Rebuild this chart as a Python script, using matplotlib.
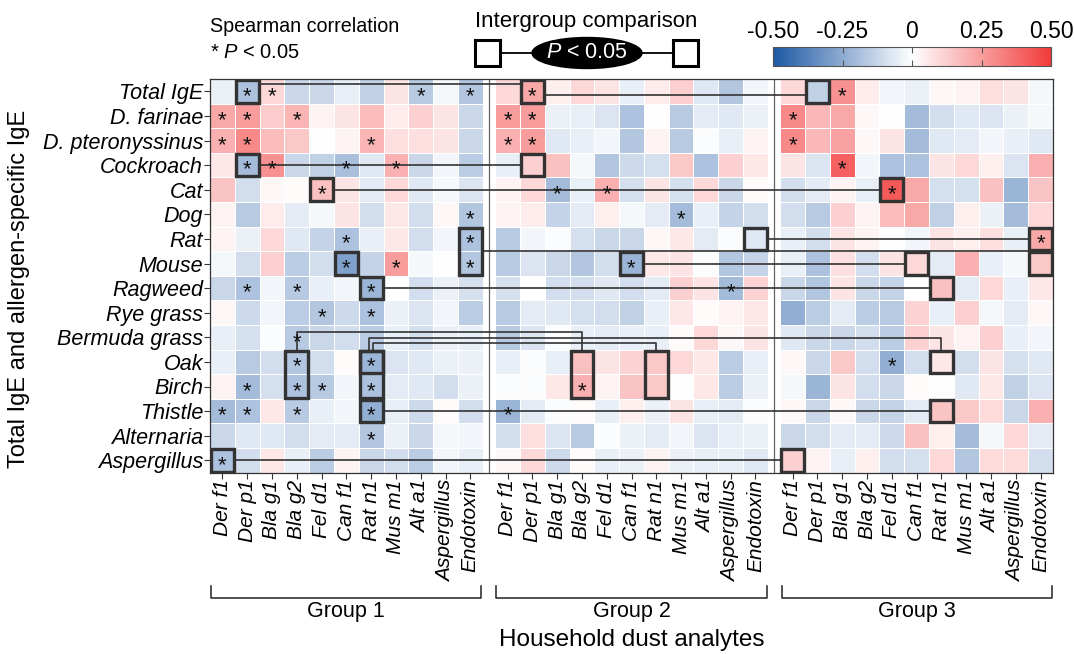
import numpy as np
import matplotlib.pyplot as plt
from matplotlib.colors import LinearSegmentedColormap
from matplotlib.patches import Rectangle, Ellipse
from matplotlib.transforms import blended_transform_factory

plt.rcParams['font.family'] = ['Liberation Sans', 'DejaVu Sans']
plt.rcParams['mathtext.fontset'] = 'custom'
plt.rcParams['mathtext.rm'] = 'Liberation Sans'
plt.rcParams['mathtext.it'] = 'Liberation Sans:italic'

# rows: allergen-specific IgE, columns: household dust analytes
allergens = ['Total IgE', 'D. farinae', 'D. pteronyssinus', 'Cockroach', 'Cat', 'Dog',
             'Rat', 'Mouse', 'Ragweed', 'Rye grass', 'Bermuda grass', 'Oak', 'Birch',
             'Thistle', 'Alternaria', 'Aspergillus']
analytes = ['Der f1', 'Der p1', 'Bla g1', 'Bla g2', 'Fel d1', 'Can f1', 'Rat n1',
            'Mus m1', 'Alt a1', 'Aspergillus', 'Endotoxin']
groups = ['Group 1', 'Group 2', 'Group 3']

rho_g1 = [
    [-0.04, -0.18, 0.10, -0.12, -0.12, -0.05, -0.14, 0.07, -0.16, -0.02, -0.17],
    [0.22, 0.25, 0.13, 0.19, 0.03, 0.07, 0.17, 0.05, 0.12, 0.07, -0.12],
    [0.20, 0.30, 0.17, 0.14, 0.00, 0.03, 0.19, 0.08, 0.08, 0.07, -0.12],
    [0.06, -0.20, 0.28, -0.12, -0.14, -0.19, -0.07, 0.20, -0.12, -0.03, -0.15],
    [0.15, -0.10, 0.02, 0.01, 0.16, 0.07, -0.06, 0.10, -0.07, -0.02, -0.08],
    [0.03, -0.16, 0.05, -0.06, -0.02, 0.07, -0.10, 0.06, -0.10, 0.02, -0.17],
    [0.03, -0.04, 0.10, -0.07, -0.13, -0.18, -0.05, 0.06, -0.10, -0.03, -0.18],
    [-0.02, -0.10, 0.12, -0.15, -0.10, -0.28, -0.13, 0.25, -0.02, 0.00, -0.17],
    [-0.12, -0.18, -0.03, -0.16, -0.05, -0.03, -0.22, 0.00, -0.10, -0.04, -0.09],
    [0.02, -0.11, -0.03, -0.15, -0.17, -0.11, -0.18, -0.04, -0.08, -0.03, -0.15],
    [-0.05, -0.09, -0.01, -0.16, -0.12, -0.10, -0.15, -0.05, -0.09, -0.04, -0.05],
    [-0.05, -0.16, -0.10, -0.17, -0.10, 0.01, -0.22, -0.08, -0.07, -0.04, -0.04],
    [0.03, -0.20, -0.09, -0.18, -0.16, -0.03, -0.18, -0.06, -0.07, -0.10, -0.04],
    [-0.20, -0.18, 0.06, -0.16, -0.05, -0.03, -0.24, -0.05, -0.11, 0.01, -0.10],
    [-0.12, -0.07, -0.07, -0.10, -0.06, -0.06, -0.17, -0.04, -0.12, -0.02, -0.03],
    [-0.18, -0.10, 0.06, -0.05, -0.15, 0.03, -0.12, -0.10, -0.15, -0.03, -0.05],
]
rho_g2 = [
    [0.10, 0.22, 0.04, 0.10, 0.07, -0.05, 0.05, 0.12, -0.07, -0.17, -0.03],
    [0.25, 0.25, -0.04, -0.05, -0.08, -0.18, 0.00, -0.16, -0.06, -0.07, -0.04],
    [0.20, 0.25, -0.07, -0.05, -0.03, -0.17, 0.03, -0.16, -0.01, -0.05, 0.03],
    [-0.05, 0.12, 0.16, -0.02, -0.17, -0.11, -0.09, 0.14, -0.18, 0.12, 0.06],
    [0.03, 0.10, -0.20, -0.05, 0.20, -0.09, 0.07, -0.09, 0.10, -0.12, 0.01],
    [0.03, 0.05, -0.13, -0.06, 0.04, -0.02, -0.06, -0.20, -0.05, -0.13, -0.10],
    [-0.16, -0.03, -0.01, -0.09, -0.12, -0.12, 0.02, 0.06, -0.06, -0.01, -0.07],
    [-0.16, -0.08, -0.12, -0.17, -0.10, -0.22, 0.06, 0.07, -0.01, -0.17, -0.13],
    [-0.09, 0.00, -0.10, -0.10, -0.07, -0.10, -0.06, 0.12, 0.07, -0.20, 0.11],
    [-0.16, -0.06, -0.07, -0.09, -0.10, -0.14, -0.05, 0.06, 0.01, 0.03, 0.06],
    [-0.16, -0.08, -0.01, -0.05, -0.06, -0.05, -0.05, 0.01, 0.10, 0.02, 0.07],
    [-0.05, -0.01, -0.05, 0.16, 0.07, 0.11, 0.14, 0.10, 0.06, -0.15, -0.05],
    [-0.01, -0.01, 0.06, 0.20, 0.03, 0.15, 0.14, 0.00, 0.06, -0.15, -0.04],
    [-0.22, -0.06, -0.01, 0.01, -0.05, 0.04, -0.04, 0.07, -0.05, -0.06, -0.01],
    [-0.10, 0.08, -0.08, -0.16, -0.01, -0.04, -0.06, -0.03, -0.08, -0.05, -0.04],
    [0.02, 0.10, -0.11, 0.01, -0.05, -0.04, 0.03, -0.04, -0.05, -0.05, -0.07],
]
rho_g3 = [
    [0.10, -0.14, 0.28, 0.05, -0.03, -0.04, 0.02, 0.03, 0.08, 0.07, -0.02],
    [0.30, 0.18, 0.22, 0.02, 0.00, -0.20, -0.10, -0.07, -0.08, -0.04, -0.02],
    [0.30, 0.18, 0.24, 0.02, 0.07, -0.20, -0.07, -0.06, -0.03, -0.05, -0.07],
    [0.07, -0.08, 0.40, -0.03, -0.18, -0.18, 0.07, 0.10, 0.04, -0.08, 0.20],
    [-0.10, -0.06, 0.03, -0.05, 0.42, 0.22, -0.09, -0.09, 0.16, -0.22, 0.15],
    [-0.10, -0.16, 0.12, 0.03, 0.17, 0.22, -0.14, 0.04, -0.04, -0.20, 0.10],
    [-0.05, -0.10, 0.07, 0.03, 0.00, -0.03, 0.07, 0.04, 0.08, -0.05, 0.22],
    [-0.05, -0.18, 0.08, -0.10, 0.07, 0.10, -0.06, 0.20, -0.05, -0.02, 0.14],
    [-0.12, -0.17, 0.07, -0.12, -0.13, 0.00, 0.16, -0.06, 0.10, -0.05, 0.06],
    [-0.24, -0.15, -0.06, -0.15, -0.16, 0.11, -0.05, 0.12, -0.02, -0.06, 0.02],
    [-0.07, -0.12, -0.12, -0.10, -0.15, 0.12, 0.07, 0.03, 0.12, -0.05, -0.03],
    [0.02, -0.12, 0.14, -0.10, -0.24, -0.10, 0.06, -0.10, 0.07, -0.09, -0.07],
    [-0.02, -0.22, 0.07, -0.10, -0.12, 0.01, 0.00, -0.07, 0.06, -0.14, -0.08],
    [0.02, -0.12, 0.02, -0.12, -0.13, -0.06, 0.15, 0.14, 0.09, -0.12, 0.20],
    [-0.12, -0.10, -0.06, -0.06, -0.11, 0.16, 0.04, -0.20, -0.02, 0.10, -0.06],
    [0.12, 0.03, -0.05, 0.04, -0.10, -0.09, 0.10, -0.17, 0.09, 0.09, -0.10],
]

# significant correlations (row, column) per group
sig_g1 = [(0, 1), (0, 2), (0, 8), (0, 10), (1, 0), (1, 1), (1, 3), (2, 0), (2, 1), (2, 6),
          (3, 1), (3, 2), (3, 5), (3, 7), (4, 4), (5, 10), (6, 5), (6, 10), (7, 5), (7, 7),
          (7, 10), (8, 1), (8, 3), (8, 6), (9, 4), (9, 6), (10, 3), (11, 3), (11, 6),
          (12, 1), (12, 3), (12, 4), (12, 6), (13, 0), (13, 1), (13, 3), (13, 6), (14, 6),
          (15, 0)]
sig_g2 = [(0, 1), (1, 0), (1, 1), (2, 0), (2, 1), (4, 2), (4, 4), (5, 7), (7, 5), (8, 9),
          (12, 3), (13, 0)]
sig_g3 = [(0, 2), (1, 0), (2, 0), (3, 2), (4, 4), (6, 10), (11, 4)]

# intergroup comparisons: boxed cells (group, column, first row, last row)
boxes = [(0, 1, 0, 0), (0, 1, 3, 3), (0, 4, 4, 4), (0, 10, 6, 7), (0, 5, 7, 7),
         (0, 6, 8, 8), (0, 3, 11, 12), (0, 6, 11, 12), (0, 6, 11, 11), (0, 6, 13, 13),
         (0, 0, 15, 15),
         (1, 1, 0, 0), (1, 1, 3, 3), (1, 10, 6, 6), (1, 5, 7, 7), (1, 3, 11, 12),
         (1, 6, 11, 12),
         (2, 1, 0, 0), (2, 4, 4, 4), (2, 10, 6, 6), (2, 5, 7, 7), (2, 10, 7, 7),
         (2, 6, 8, 8), (2, 6, 11, 11), (2, 6, 13, 13), (2, 0, 15, 15)]
# straight links: (group a, col a, group b, col b, row level)
links = [(0, 1, 1, 1, 0.22), (1, 1, 2, 1, 0.66), (0, 1, 1, 1, 3.5), (0, 4, 2, 4, 4.5),
         (0, 10, 2, 10, 7.0), (1, 10, 2, 10, 6.5), (1, 5, 2, 5, 7.5), (0, 6, 2, 6, 8.5),
         (0, 6, 2, 6, 13.5), (0, 0, 2, 0, 15.5)]
# bracket links over the top of boxes: (group a, col a, group b, col b, level, dx a)
brackets = [(0, 3, 1, 3, 10.27, 0.0), (0, 6, 2, 6, 10.52, -0.07), (0, 6, 1, 6, 10.74, 0.07)]

GAP = 0.5
def xoff(g):
    return g * (len(analytes) + GAP)

cmap = LinearSegmentedColormap.from_list('rb', ['#1d58a4', '#ffffff', '#f23b3b'])
dark = '#333333'

fig = plt.figure(figsize=(10.74, 6.54), dpi=100)
ax = fig.add_axes([210 / 1074, 1 - 472.6 / 654, 843 / 1074, 393.6 / 654])

mesh = None
for g, rho in enumerate([rho_g1, rho_g2, rho_g3]):
    xe = xoff(g) + np.arange(len(analytes) + 1)
    ye = np.arange(len(allergens) + 1)
    mesh = ax.pcolormesh(xe, ye, np.array(rho), cmap=cmap, vmin=-0.5, vmax=0.5,
                         edgecolors='white', linewidth=0.7, zorder=1)

for g in (1, 2):
    ax.axvline(xoff(g) - GAP / 2, color='#666666', lw=0.9, zorder=2)

for ga, ca, gb, cb, lvl in links:
    ax.plot([xoff(ga) + ca + 1, xoff(gb) + cb], [lvl, lvl], color=dark, lw=1.2, zorder=3)
for ga, ca, gb, cb, lvl, dx in brackets:
    xa = xoff(ga) + ca + 0.5 + dx
    xb = xoff(gb) + cb + 0.5
    ax.plot([xa, xa, xb, xb], [11, lvl, lvl, 11], color=dark, lw=1.2, zorder=3)

for g, c, r0, r1 in boxes:
    ax.add_patch(Rectangle((xoff(g) + c + 0.04, r0 + 0.04), 0.92, r1 - r0 + 0.92,
                           fill=False, ec=dark, lw=2.4, zorder=4))

for g, sig in enumerate([sig_g1, sig_g2, sig_g3]):
    for r, c in sig:
        ax.text(xoff(g) + c + 0.5, r + 0.5 + 0.2, '*', ha='center', va='center',
                fontsize=16, color='#111111', zorder=5)

ax.set_xlim(0, xoff(2) + len(analytes))
ax.set_ylim(len(allergens), 0)
ax.set_yticks(np.arange(len(allergens)) + 0.5)
ax.set_yticklabels(allergens, fontsize=15.5, style='italic')
xt = [xoff(g) + c + 0.5 for g in range(3) for c in range(len(analytes))]
ax.set_xticks(xt)
ax.set_xticklabels(analytes * 3, rotation=90, fontsize=15, style='italic')
ax.tick_params(length=4, color=dark, pad=1)
for s in ax.spines.values():
    s.set_color(dark)
    s.set_linewidth(0.9)

# overlay in pixel units for legend, brackets and titles
ov = fig.add_axes([0, 0, 1, 1])
ov.set_xlim(0, 1074)
ov.set_ylim(654, 0)
ov.axis('off')
ov.patch.set_alpha(0)
bt = blended_transform_factory(ax.transData, ov.transData)

for g, name in enumerate(groups):
    xl = xoff(g) + 0.05
    xr = xoff(g) + len(analytes) - 0.05
    ov.plot([xl, xl, xr, xr], [586, 598, 598, 586], color=dark, lw=1.2, transform=bt)
    ov.text((xl + xr) / 2, 611, name, ha='center', va='center', fontsize=15.5, transform=bt)
ov.text(ax.get_xlim()[1] / 2, 640, 'Household dust analytes', ha='center', va='center',
        fontsize=17.5, transform=bt)
ov.text(19, 289, 'Total IgE and allergen-specific IgE', rotation=90, ha='center',
        va='center', fontsize=17)

ov.text(210, 27, 'Spearman correlation', va='center', fontsize=14.2)
ov.text(210, 53, '* $P$ < 0.05', va='center', fontsize=14.5)
ov.text(475, 21, 'Intergroup comparison', va='center', fontsize=16)
ov.plot([500, 673], [53, 53], color='black', lw=1.3)
ov.add_patch(Rectangle((475, 40), 25, 26, fill=False, ec='black', lw=2.2))
ov.add_patch(Rectangle((673, 40), 25, 26, fill=False, ec='black', lw=2.2))
ov.add_patch(Ellipse((587, 53), 110, 31, fc='black', ec='black'))
ov.text(587, 53, '$P$ < 0.05', color='white', ha='center', va='center', fontsize=15.5)

cax = fig.add_axes([773 / 1074, 1 - 66 / 654, 278 / 1074, 19 / 654])
cb = fig.colorbar(mesh, cax=cax, orientation='horizontal')
cb.set_ticks([-0.5, -0.25, 0, 0.25, 0.5])
cb.set_ticklabels(['-0.50', '-0.25', '0', '0.25', '0.50'])
cax.tick_params(top=True, bottom=True, labeltop=True, labelbottom=False, direction='in',
                length=4, color='#555555', labelsize=16.5, pad=3)
cb.outline.set_edgecolor('#555555')
cb.outline.set_linewidth(0.8)

fig.savefig('out.png', dpi=100)
